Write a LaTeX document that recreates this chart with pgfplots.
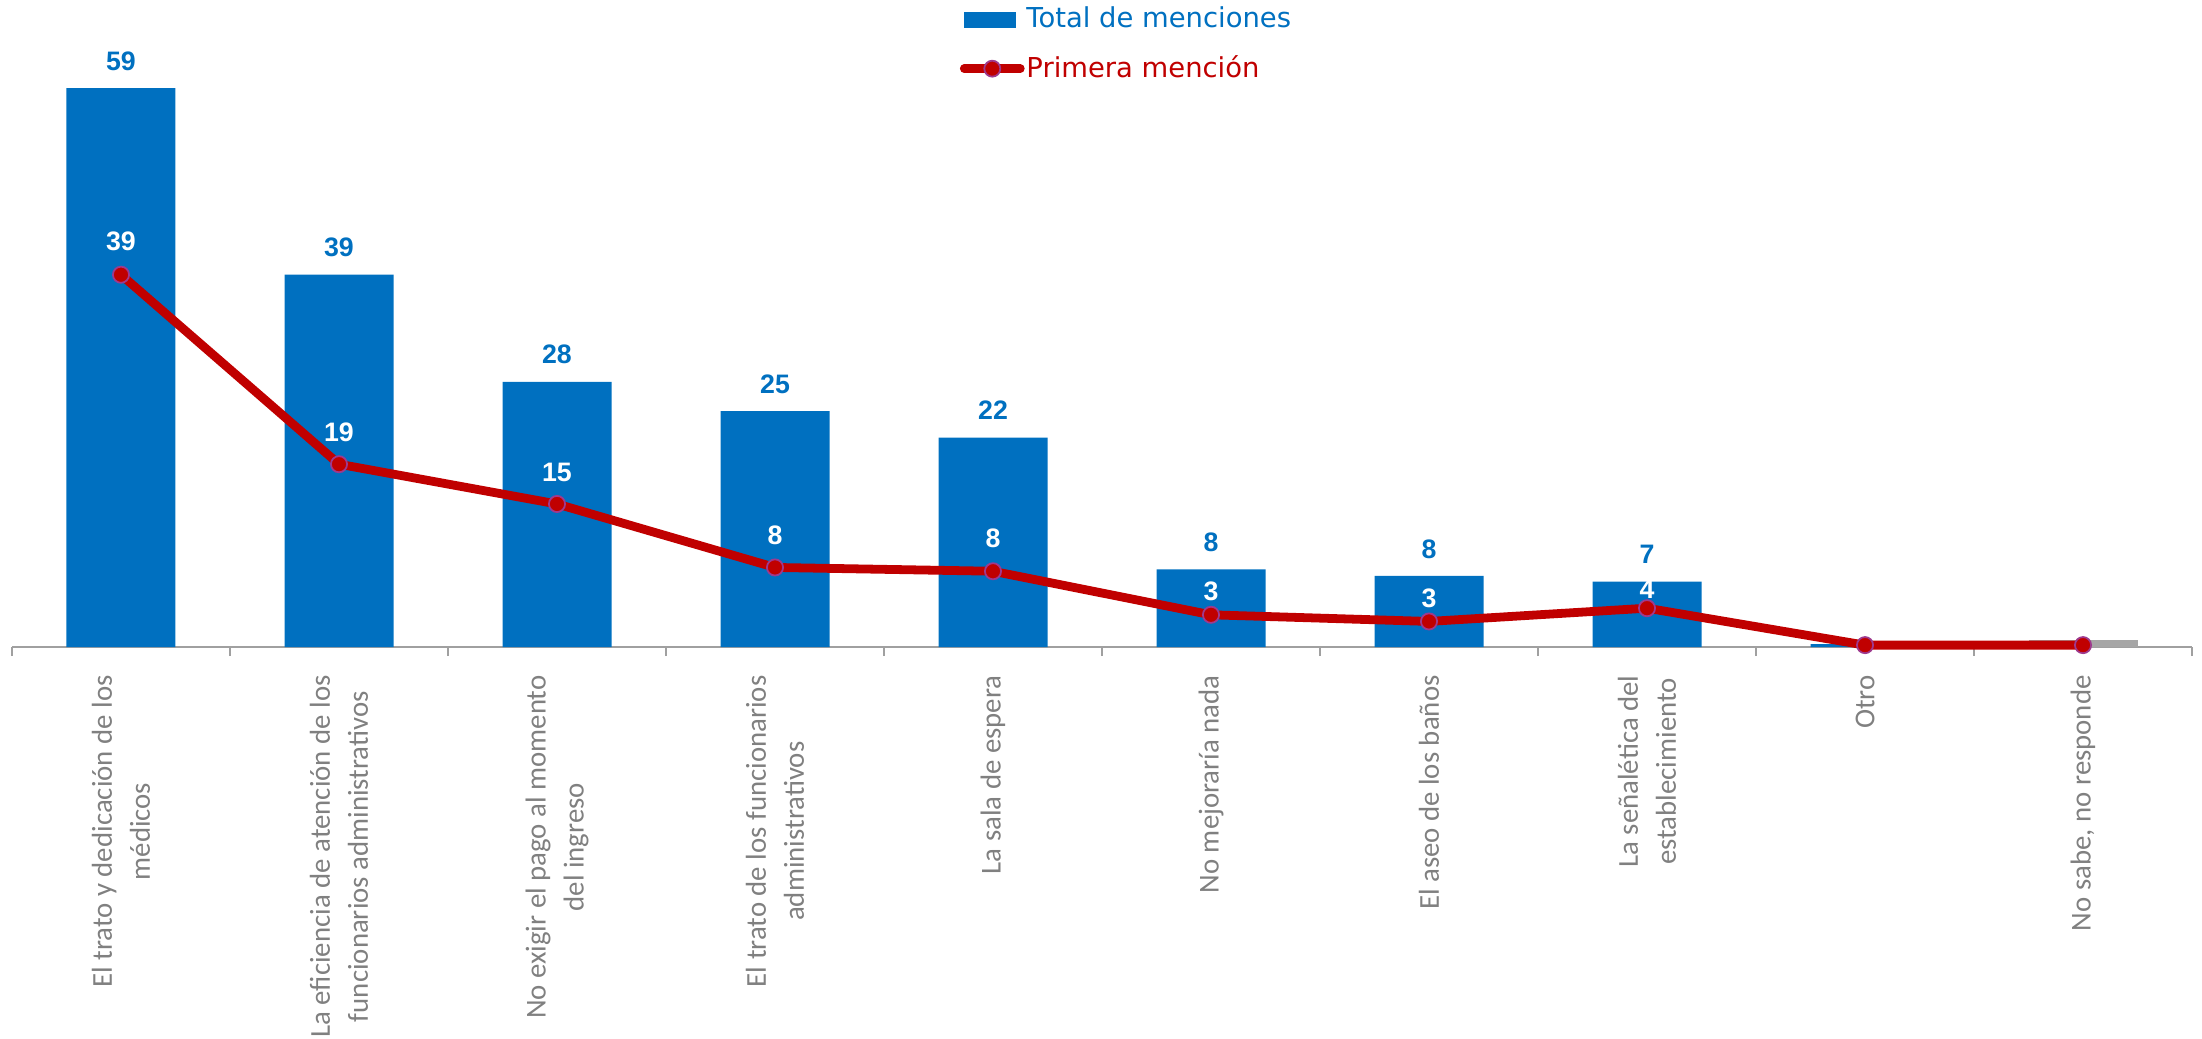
\documentclass[border=0pt]{standalone}
\usepackage{fontspec}
\setmainfont{Liberation Sans}
\newfontfamily\lblfont{Carlito}
\newfontfamily\legfont{DejaVu Sans}
\usepackage{pgfplots}
\usepackage{pgfplotstable}
\pgfplotsset{compat=1.18}
\definecolor{barblue}{HTML}{0070C0}
\definecolor{linered}{HTML}{C00000}
\definecolor{mkedge}{HTML}{9E3A8E}
\definecolor{axgray}{HTML}{A0A0A0}
\definecolor{lblgray}{HTML}{808080}
\definecolor{nsgray}{HTML}{A6A6A6}

% Primera mencion: x, value, label, label offset (cm)
\pgfplotstableread{
x  y     lbl  off
0  39.3  39   0.33
1  19.3  19   0.32
2  15.1  15   0.32
3  8.4   8    0.32
4  8.0   8    0.33
5  3.4   3    0.23
6  2.7   3    0.23
7  4.1   4    0.19
8  0.2   {}   0
9  0.2   {}   0
}\primera

\begin{document}
\begin{tikzpicture}
\begin{axis}[
  scale only axis,
  width=21.80cm, height=6.47cm,
  xmin=-0.5, xmax=9.5, ymin=0, ymax=68.3,
  axis x line*=bottom, axis y line=none,
  x axis line style={draw=axgray, line width=0.7pt, -},
  clip=false,
  /pgf/bar shift=0pt,
  xtick={0,...,9},
  major tick length=0pt,
  xticklabels={
    {El trato y dedicación de los\\médicos},
    {La eficiencia de atención de los\\funcionarios administrativos},
    {No exigir el pago al momento\\del ingreso},
    {El trato de los funcionarios\\administrativos},
    {La sala de espera},
    {No mejoraría nada},
    {El aseo de los baños},
    {La señalética del\\establecimiento},
    {Otro},
    {No sabe, no responde}},
  xticklabel style={rotate=90, anchor=east, align=center,
    font=\lblfont\fontsize{8.2}{10.8}\selectfont, text=lblgray},
  xticklabel shift=0.16cm,
  extra x ticks={-0.5,0.5,...,9.5},
  extra x tick labels={},
  extra x tick style={major tick length=0.09cm, tick align=outside,
    tick style={draw=axgray, line width=0.7pt}},
  legend style={at={(rel axis cs:0.4345,1)}, anchor=north west,
    yshift=-0.04cm, draw=none, fill=none, inner sep=0pt,
    font=\legfont\fontsize{7.8}{9}\selectfont, row sep=0.19cm,
    nodes={inner sep=0.5pt}},
  legend cell align=left,
]
\coordinate (A) at (rel axis cs:0,0);
\coordinate (B) at (rel axis cs:1,1);

% Total de menciones
\addplot[ybar, bar width=0.5, fill=barblue, draw=none,
  nodes near coords, point meta=explicit symbolic,
  every node near coord/.append style={font=\bfseries\fontsize{7.6}{9}\selectfont,
    text=barblue, anchor=center, yshift=0.27cm},
  legend image code/.code={\fill[barblue] (0cm,-0.08cm) rectangle (0.52cm,0.08cm);}]
  coordinates {(0,59.0)[59] (1,39.3)[39] (2,28.0)[28] (3,24.9)[25] (4,22.1)[22]
               (5,8.2)[8] (6,7.5)[8] (7,6.9)[7] (8,0.3)[]};
\addlegendentry{\textcolor{barblue}{Total de menciones}}

% No sabe (gray bar)
\addplot[ybar, bar width=0.5, fill=nsgray, draw=none, forget plot]
  coordinates {(9,0.7)};

% Primera mención
\addplot[linered, line width=2.5pt, mark=*, mark size=2.3pt,
  mark options={fill=linered, draw=mkedge, line width=0.5pt},
  nodes near coords, point meta=explicit symbolic,
  visualization depends on={\thisrow{off} \as \off},
  every node near coord/.append style={font=\bfseries\fontsize{7.6}{9}\selectfont,
    text=white, anchor=center, yshift=\off cm},
  legend image code/.code={
    \draw[linered, line width=2.5pt, line cap=round] (0cm,0cm) -- (0.56cm,0cm);
    \filldraw[fill=linered, draw=mkedge, line width=0.5pt] (0.28cm,0cm) circle (0.08cm);}]
  table[x=x, y=y, meta=lbl] {\primera};
\addlegendentry{\textcolor{linered}{Primera mención}}
\end{axis}
\pgfresetboundingbox
\useasboundingbox ([shift={(-0.12cm,-3.91cm)}]A) rectangle ([shift={(0.10cm,0cm)}]B);
\end{tikzpicture}
\end{document}
